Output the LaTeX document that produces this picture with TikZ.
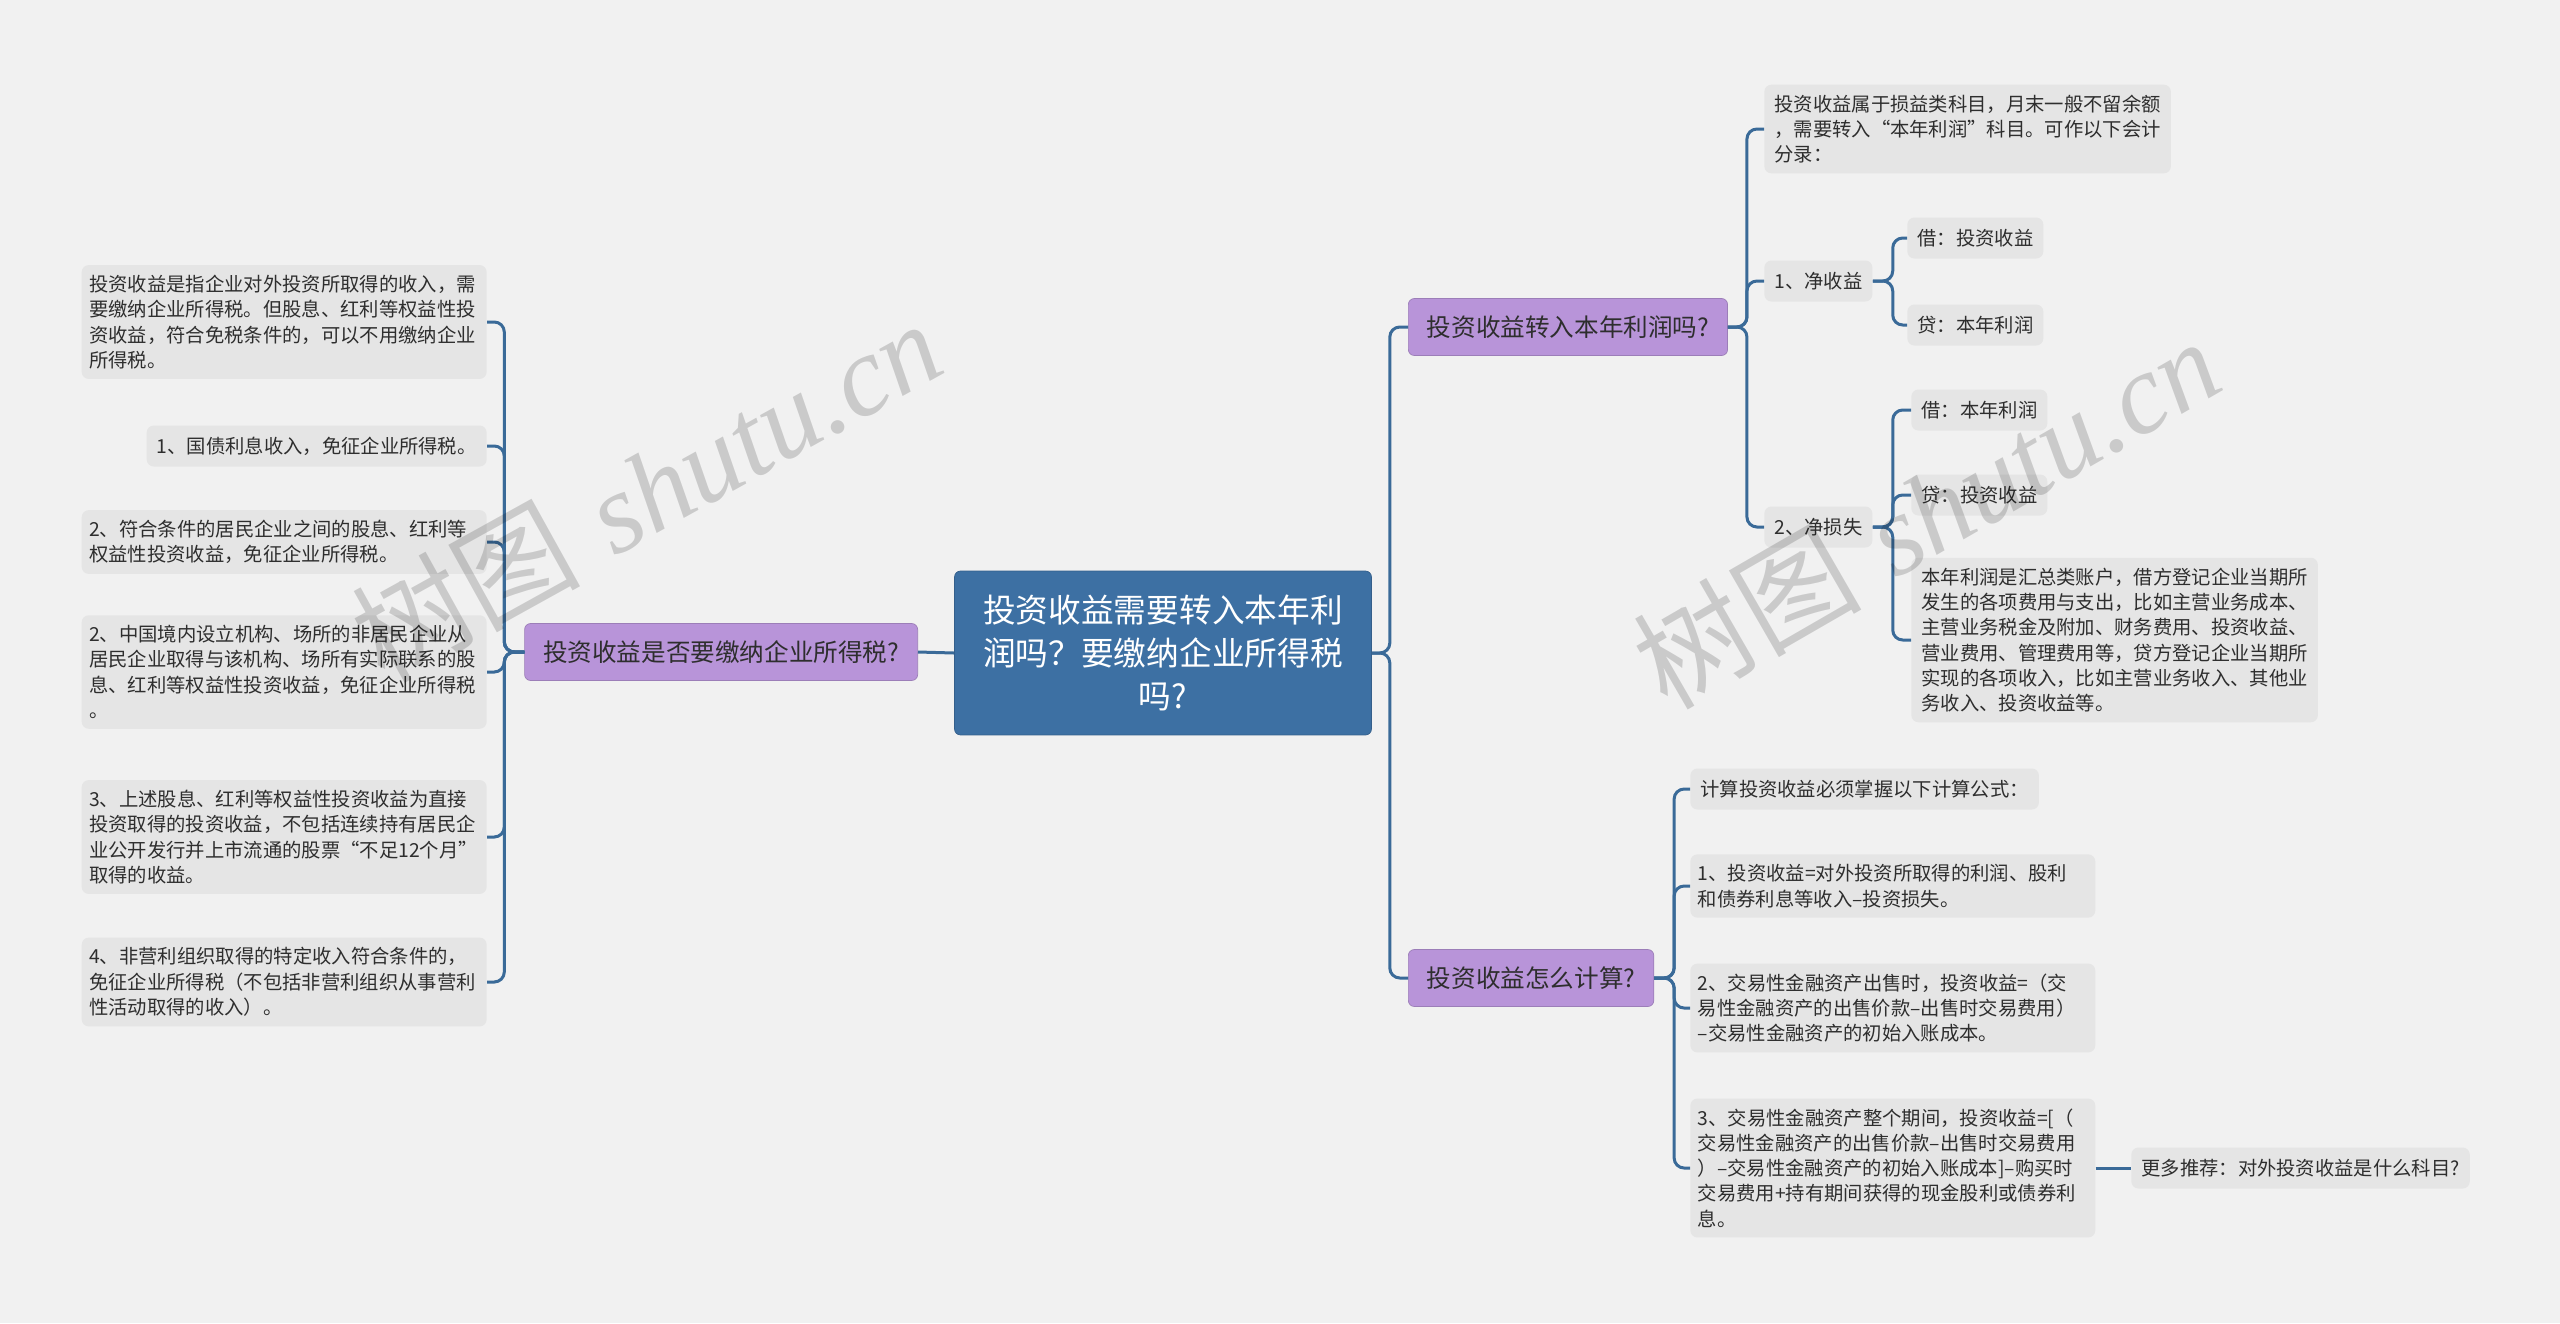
\documentclass[tikz,border=0pt]{standalone}
\usepackage{fontspec}
\newfontfamily\cjk{Noto Sans CJK SC}
\newfontfamily\wmlatin{Liberation Serif}
\definecolor{bgcol}{HTML}{F1F1F1}
\definecolor{rootblue}{HTML}{3D70A3}
\definecolor{twigblue}{HTML}{3A6A98}
\definecolor{lilac}{HTML}{B894D9}
\definecolor{leafgray}{HTML}{E5E5E5}
\definecolor{inkgray}{HTML}{2E2E2E}

\begin{document}
\begin{tikzpicture}[x = 0.02cm, y = -0.02cm,
  root/.style = {draw = rootblue!85!black, fill = rootblue, rounded corners = 0.12cm, text = white, align = center,
    font = \cjk\fontsize{18.6}{24.6}\selectfont, minimum width = 8.34cm, minimum height = 3.28cm},
  topic/.style = {draw = lilac!85!black, fill = lilac, rounded corners = 0.12cm, text = inkgray,
    font = \cjk\fontsize{14}{18}\selectfont, inner xsep = 0.37cm, minimum height = 1.14cm},
  leaf/.style = {fill = leafgray, rounded corners = 0.14cm, text = inkgray, align = left,
    font = \cjk\fontsize{11}{14.4}\selectfont, inner xsep = 0.2cm, inner ysep = 0.2cm, minimum height = 0.82cm},
  wide/.style = {text width = 7.8cm, inner xsep = 0.15cm},
  twig/.style = {draw = twigblue, line width = 0.06cm, rounded corners = 0.2cm},
  wmark/.style = {text = black, opacity = 0.16, font = \fontsize{65}{65}\selectfont}]

\fill[bgcol] (0, 0) rectangle (2560, 1323);

% centre and the three topics
\node[root] at (1163, 653) (root) {投资收益需要转入本年利\\润吗？要缴纳企业所得税\\吗?};
\node[topic, anchor = east] at (918, 652) (tax) {投资收益是否要缴纳企业所得税?};
\node[topic, anchor = west] at (1408, 327) (b1) {投资收益转入本年利润吗?};
\node[topic, anchor = west] at (1408, 978) (b2) {投资收益怎么计算?};

% left side
\node[leaf, wide, anchor = east] at (487, 322) (l1) {投资收益是指企业对外投资所取得的收入，需\\要缴纳企业所得税。但股息、红利等权益性投\\资收益，符合免税条件的，可以不用缴纳企业\\所得税。};
\node[leaf, anchor = east] at (487, 446) (l2) {1、国债利息收入，免征企业所得税。};
\node[leaf, wide, anchor = east] at (487, 542) (l3) {2、符合条件的居民企业之间的股息、红利等\\权益性投资收益，免征企业所得税。};
\node[leaf, wide, anchor = east] at (487, 672) (l4) {2、中国境内设立机构、场所的非居民企业从\\居民企业取得与该机构、场所有实际联系的股\\息、红利等权益性投资收益，免征企业所得税\\。};
\node[leaf, wide, anchor = east] at (487, 837) (l5) {3、上述股息、红利等权益性投资收益为直接\\投资取得的投资收益，不包括连续持有居民企\\业公开发行并上市流通的股票“不足12个月”\\取得的收益。};
\node[leaf, wide, anchor = east] at (487, 982) (l6) {4、非营利组织取得的特定收入符合条件的，\\免征企业所得税（不包括非营利组织从事营利\\性活动取得的收入）。};

% right side, upper
\node[leaf, anchor = west] at (1764, 129) (r1a) {投资收益属于损益类科目，月末一般不留余额\\，需要转入“本年利润”科目。可作以下会计\\分录：};
\node[leaf, anchor = west] at (1764, 281) (r1b) {1、净收益};
\node[leaf, anchor = west] at (1764, 527) (r1c) {2、净损失};
\node[leaf, anchor = west] at (1907, 238) (r1b1) {借：投资收益};
\node[leaf, anchor = west] at (1907, 325) (r1b2) {贷：本年利润};
\node[leaf, anchor = west] at (1911, 410) (r1c1) {借：本年利润};
\node[leaf, anchor = west] at (1911, 495) (r1c2) {贷：投资收益};
\node[leaf, anchor = west] at (1911, 640) (r1c3) {本年利润是汇总类账户，借方登记企业当期所\\发生的各项费用与支出，比如主营业务成本、\\主营业务税金及附加、财务费用、投资收益、\\营业费用、管理费用等，贷方登记企业当期所\\实现的各项收入，比如主营业务收入、其他业\\务收入、投资收益等。};

% right side, lower
\node[leaf, anchor = west] at (1690, 789) (r2a) {计算投资收益必须掌握以下计算公式：};
\node[leaf, wide, anchor = west] at (1690, 886) (r2b) {1、投资收益=对外投资所取得的利润、股利\\和债券利息等收入–投资损失。};
\node[leaf, wide, anchor = west] at (1690, 1008) (r2c) {2、交易性金融资产出售时，投资收益=（交\\易性金融资产的出售价款–出售时交易费用）\\–交易性金融资产的初始入账成本。};
\node[leaf, wide, anchor = west] at (1690, 1168) (r2d) {3、交易性金融资产整个期间，投资收益=[（\\交易性金融资产的出售价款–出售时交易费用\\）–交易性金融资产的初始入账成本]–购买时\\交易费用+持有期间获得的现金股利或债券利\\息。};
\node[leaf, anchor = west] at (2131, 1168) (more) {更多推荐：对外投资收益是什么科目?};

% connectors
\draw[twig] (root.west) -- (tax.east);
\draw[twig] (root.east) -- ++(18, 0) |- (b1.west);
\draw[twig] (root.east) -- ++(18, 0) |- (b2.west);

\draw[twig] (tax.west) -- ++(-20, 0) |- (l1.east);
\draw[twig] (tax.west) -- ++(-20, 0) |- (l2.east);
\draw[twig] (tax.west) -- ++(-20, 0) |- (l3.east);
\draw[twig] (tax.west) -- ++(-20, 0) |- (l4.east);
\draw[twig] (tax.west) -- ++(-20, 0) |- (l5.east);
\draw[twig] (tax.west) -- ++(-20, 0) |- (l6.east);

\draw[twig] (b1.east) -- ++(19, 0) |- (r1a.west);
\draw[twig] (b1.east) -- ++(19, 0) |- (r1b.west);
\draw[twig] (b1.east) -- ++(19, 0) |- (r1c.west);
\draw[twig] (r1b.east) -- ++(20, 0) |- (r1b1.west);
\draw[twig] (r1b.east) -- ++(20, 0) |- (r1b2.west);
\draw[twig] (r1c.east) -- ++(20, 0) |- (r1c1.west);
\draw[twig] (r1c.east) -- ++(20, 0) |- (r1c2.west);
\draw[twig] (r1c.east) -- ++(20, 0) |- (r1c3.west);

\draw[twig] (b2.east) -- ++(20, 0) |- (r2a.west);
\draw[twig] (b2.east) -- ++(20, 0) |- (r2b.west);
\draw[twig] (b2.east) -- ++(20, 0) |- (r2c.west);
\draw[twig] (b2.east) -- ++(20, 0) |- (r2d.west);
\draw[twig] (r2d.east) -- (more.west);

% watermarks
\node[wmark, rotate = 29] at (646, 490) (wm1) {{\cjk 树图} {\wmlatin\itshape shutu.cn}};
\node[wmark, rotate = 30] at (1926, 512) (wm2) {{\cjk 树图} {\wmlatin\itshape shutu.cn}};

\end{tikzpicture}
\end{document}
